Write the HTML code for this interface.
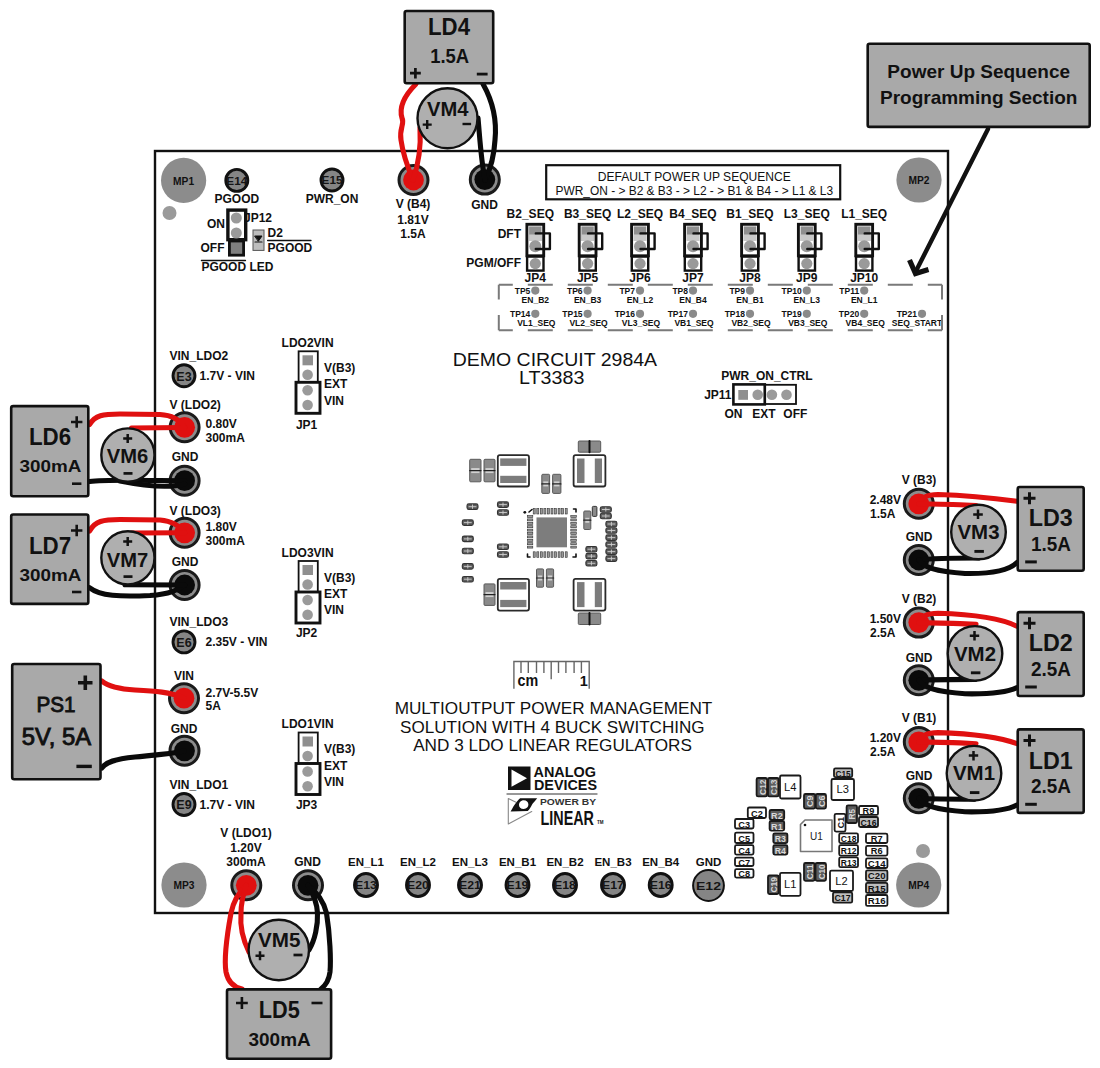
<!DOCTYPE html><html><head><meta charset="utf-8"><style>html,body{margin:0;padding:0;background:#fff;}svg{display:block;}</style></head><body><svg width="1100" height="1068" viewBox="0 0 1100 1068" font-family='"Liberation Sans", sans-serif'>
<rect width="1100" height="1068" fill="#ffffff"/>
<rect x="155.0" y="151.0" width="793.0" height="762.0" rx="0" fill="#fff" stroke="#111" stroke-width="2.4"/>
<circle cx="183.6" cy="180.4" r="22.6" fill="#8c8c8c" stroke="none" stroke-width="0"/>
<text x="183.6" y="184.5" font-size="10" text-anchor="middle" font-weight="bold" fill="#111" textLength="21" lengthAdjust="spacingAndGlyphs">MP1</text>
<circle cx="919.0" cy="180.0" r="22.6" fill="#8c8c8c" stroke="none" stroke-width="0"/>
<text x="919.0" y="184.1" font-size="10" text-anchor="middle" font-weight="bold" fill="#111" textLength="21" lengthAdjust="spacingAndGlyphs">MP2</text>
<circle cx="184.0" cy="885.0" r="22.6" fill="#8c8c8c" stroke="none" stroke-width="0"/>
<text x="184.0" y="889.1" font-size="10" text-anchor="middle" font-weight="bold" fill="#111" textLength="21" lengthAdjust="spacingAndGlyphs">MP3</text>
<circle cx="918.7" cy="885.0" r="22.6" fill="#8c8c8c" stroke="none" stroke-width="0"/>
<text x="918.7" y="889.1" font-size="10" text-anchor="middle" font-weight="bold" fill="#111" textLength="21" lengthAdjust="spacingAndGlyphs">MP4</text>
<circle cx="169.5" cy="213.0" r="7.0" fill="#9a9a9a" stroke="none" stroke-width="0"/>
<circle cx="923.0" cy="851.0" r="7.0" fill="#9a9a9a" stroke="none" stroke-width="0"/>
<circle cx="366.0" cy="885.0" r="11.5" fill="#858585" stroke="#111" stroke-width="2.9"/>
<text x="366.0" y="889.2" font-size="11" text-anchor="middle" font-weight="bold" fill="#151515" textLength="21.9" lengthAdjust="spacingAndGlyphs">E13</text>
<circle cx="418.0" cy="885.0" r="11.5" fill="#858585" stroke="#111" stroke-width="2.9"/>
<text x="418.0" y="889.2" font-size="11" text-anchor="middle" font-weight="bold" fill="#151515" textLength="21.9" lengthAdjust="spacingAndGlyphs">E20</text>
<circle cx="470.0" cy="885.0" r="11.5" fill="#858585" stroke="#111" stroke-width="2.9"/>
<text x="470.0" y="889.2" font-size="11" text-anchor="middle" font-weight="bold" fill="#151515" textLength="21.9" lengthAdjust="spacingAndGlyphs">E21</text>
<circle cx="517.5" cy="885.0" r="11.5" fill="#858585" stroke="#111" stroke-width="2.9"/>
<text x="517.5" y="889.2" font-size="11" text-anchor="middle" font-weight="bold" fill="#151515" textLength="21.9" lengthAdjust="spacingAndGlyphs">E19</text>
<circle cx="565.0" cy="885.0" r="11.5" fill="#858585" stroke="#111" stroke-width="2.9"/>
<text x="565.0" y="889.2" font-size="11" text-anchor="middle" font-weight="bold" fill="#151515" textLength="21.9" lengthAdjust="spacingAndGlyphs">E18</text>
<circle cx="613.0" cy="885.0" r="11.5" fill="#858585" stroke="#111" stroke-width="2.9"/>
<text x="613.0" y="889.2" font-size="11" text-anchor="middle" font-weight="bold" fill="#151515" textLength="21.9" lengthAdjust="spacingAndGlyphs">E17</text>
<circle cx="660.7" cy="885.0" r="11.5" fill="#858585" stroke="#111" stroke-width="2.9"/>
<text x="660.7" y="889.2" font-size="11" text-anchor="middle" font-weight="bold" fill="#151515" textLength="21.9" lengthAdjust="spacingAndGlyphs">E16</text>
<circle cx="708.5" cy="885.5" r="15.4" fill="#858585" stroke="#111" stroke-width="2"/>
<text x="708.5" y="889.7" font-size="11" text-anchor="middle" font-weight="bold" fill="#151515" textLength="25" lengthAdjust="spacingAndGlyphs">E12</text>
<circle cx="236.8" cy="180.4" r="11.0" fill="#858585" stroke="#111" stroke-width="2.9"/>
<text x="236.8" y="184.6" font-size="11" text-anchor="middle" font-weight="bold" fill="#151515" textLength="20.9" lengthAdjust="spacingAndGlyphs">E14</text>
<circle cx="332.0" cy="180.0" r="11.0" fill="#858585" stroke="#111" stroke-width="2.9"/>
<text x="332.0" y="184.2" font-size="11" text-anchor="middle" font-weight="bold" fill="#151515" textLength="20.9" lengthAdjust="spacingAndGlyphs">E15</text>
<circle cx="184.0" cy="375.8" r="11.0" fill="#858585" stroke="#111" stroke-width="2.9"/>
<text x="184.0" y="380.6" font-size="12.5" text-anchor="middle" font-weight="bold" fill="#151515">E3</text>
<circle cx="184.0" cy="641.9" r="11.0" fill="#858585" stroke="#111" stroke-width="2.9"/>
<text x="184.0" y="646.7" font-size="12.5" text-anchor="middle" font-weight="bold" fill="#151515">E6</text>
<circle cx="184.0" cy="804.5" r="11.0" fill="#858585" stroke="#111" stroke-width="2.9"/>
<text x="184.0" y="809.3" font-size="12.5" text-anchor="middle" font-weight="bold" fill="#151515">E9</text>
<text x="236.8" y="203.1" font-size="12" text-anchor="middle" font-weight="bold" fill="#111">PGOOD</text>
<text x="332.0" y="203.1" font-size="12" text-anchor="middle" font-weight="bold" fill="#111">PWR_ON</text>
<text x="413.0" y="208.3" font-size="12" text-anchor="middle" font-weight="bold" fill="#111">V (B4)</text>
<text x="413.0" y="223.5" font-size="12" text-anchor="middle" font-weight="bold" fill="#111">1.81V</text>
<text x="413.0" y="237.9" font-size="12" text-anchor="middle" font-weight="bold" fill="#111">1.5A</text>
<text x="484.5" y="208.6" font-size="12" text-anchor="middle" font-weight="bold" fill="#111">GND</text>
<text x="244.0" y="221.8" font-size="12" text-anchor="start" font-weight="bold" fill="#111">JP12</text>
<rect x="229.4" y="241.0" width="14.2" height="14.2" rx="0" fill="#7f7f7f" stroke="#111" stroke-width="2.8"/>
<rect x="227.9" y="210.1" width="17.8" height="29.6" rx="0" fill="#fff" stroke="#111" stroke-width="3.4"/>
<circle cx="236.3" cy="218.0" r="5.5" fill="#9a9a9a" stroke="none" stroke-width="0"/>
<circle cx="236.3" cy="233.0" r="5.5" fill="#9a9a9a" stroke="none" stroke-width="0"/>
<text x="225.0" y="227.8" font-size="12" text-anchor="end" font-weight="bold" fill="#111">ON</text>
<text x="224.5" y="251.6" font-size="12" text-anchor="end" font-weight="bold" fill="#111">OFF</text>
<rect x="253.0" y="230.0" width="11.0" height="20.4" rx="0" fill="#bdbdbd" stroke="#555" stroke-width="1"/>
<path d="M255,236 L262,236 L258.5,241 Z" fill="#111" stroke="#111" stroke-width="1" stroke-linecap="round" stroke-linejoin="round"/>
<path d="M255,242 L262,242" fill="none" stroke="#111" stroke-width="1.2" stroke-linecap="round" stroke-linejoin="round"/>
<text x="267.6" y="237.3" font-size="12" text-anchor="start" font-weight="bold" fill="#111">D2</text>
<text x="267.6" y="251.9" font-size="12" text-anchor="start" font-weight="bold" fill="#111">PGOOD</text>
<path d="M267.6,240.5 L311,240.5" fill="none" stroke="#111" stroke-width="1.3" stroke-linecap="round" stroke-linejoin="round"/>
<text x="201.4" y="271.3" font-size="12" text-anchor="start" font-weight="bold" fill="#111">PGOOD LED</text>
<path d="M201.4,260.5 L245.5,260.5" fill="none" stroke="#111" stroke-width="1.3" stroke-linecap="round" stroke-linejoin="round"/>
<rect x="546.2" y="165.2" width="294.0" height="34.1" rx="0" fill="none" stroke="#111" stroke-width="2.2"/>
<text x="694.3" y="180.9" font-size="13" text-anchor="middle" font-weight="normal" fill="#111" textLength="193" lengthAdjust="spacingAndGlyphs">DEFAULT POWER UP SEQUENCE</text>
<text x="694.3" y="195.3" font-size="13" text-anchor="middle" font-weight="normal" fill="#111" textLength="277.6" lengthAdjust="spacingAndGlyphs">PWR_ON - &gt; B2 &amp; B3 - &gt; L2 - &gt; B1 &amp; B4 - &gt; L1 &amp; L3</text>
<text x="530.3" y="217.9" font-size="12" text-anchor="middle" font-weight="bold" fill="#111">B2_SEQ</text>
<rect x="527.1" y="256.5" width="16.4" height="14.1" rx="0" fill="#fff" stroke="#111" stroke-width="2.4"/>
<circle cx="535.3" cy="263.6" r="5.6" fill="#9a9a9a" stroke="none" stroke-width="0"/>
<rect x="526.9" y="224.3" width="16.8" height="31.5" rx="0" fill="#fff" stroke="#111" stroke-width="2.9"/>
<rect x="529.1" y="226.4" width="12.4" height="14.6" rx="0" fill="#8f8f8f" stroke="none" stroke-width="0"/>
<rect x="529.1" y="234.5" width="12.4" height="6.5" fill="#c9c9c9"/>
<circle cx="535.3" cy="246.2" r="6.0" fill="#9a9a9a" stroke="none" stroke-width="0"/>
<path d="M535.8,233.4 L549.9,233.4 L549.9,249 L535.8,249" fill="none" stroke="#111" stroke-width="2.4" stroke-linecap="round" stroke-linejoin="round"/>
<text x="535.3" y="281.8" font-size="12" text-anchor="middle" font-weight="bold" fill="#111">JP4</text>
<circle cx="535.3" cy="290.6" r="4.1" fill="#8a8a8a" stroke="none" stroke-width="0"/>
<circle cx="535.3" cy="313.8" r="4.1" fill="#8a8a8a" stroke="none" stroke-width="0"/>
<text x="530.3" y="293.6" font-size="8.5" text-anchor="end" font-weight="bold" fill="#111">TP5</text>
<text x="535.3" y="302.6" font-size="8.5" text-anchor="middle" font-weight="bold" fill="#111">EN_B2</text>
<text x="530.3" y="316.8" font-size="8.5" text-anchor="end" font-weight="bold" fill="#111">TP14</text>
<text x="536.3" y="325.7" font-size="8.5" text-anchor="middle" font-weight="bold" fill="#111">VL1_SEQ</text>
<text x="587.6" y="217.9" font-size="12" text-anchor="middle" font-weight="bold" fill="#111">B3_SEQ</text>
<rect x="579.4" y="256.5" width="16.4" height="14.1" rx="0" fill="#fff" stroke="#111" stroke-width="2.4"/>
<circle cx="587.6" cy="263.6" r="5.6" fill="#9a9a9a" stroke="none" stroke-width="0"/>
<rect x="579.2" y="224.3" width="16.8" height="31.5" rx="0" fill="#fff" stroke="#111" stroke-width="2.9"/>
<rect x="581.4" y="226.4" width="12.4" height="14.6" rx="0" fill="#8f8f8f" stroke="none" stroke-width="0"/>
<rect x="581.4" y="234.5" width="12.4" height="6.5" fill="#c9c9c9"/>
<circle cx="587.6" cy="246.2" r="6.0" fill="#9a9a9a" stroke="none" stroke-width="0"/>
<path d="M588.1,233.4 L602.2,233.4 L602.2,249 L588.1,249" fill="none" stroke="#111" stroke-width="2.4" stroke-linecap="round" stroke-linejoin="round"/>
<text x="587.6" y="281.8" font-size="12" text-anchor="middle" font-weight="bold" fill="#111">JP5</text>
<circle cx="587.6" cy="290.6" r="4.1" fill="#8a8a8a" stroke="none" stroke-width="0"/>
<circle cx="587.6" cy="313.8" r="4.1" fill="#8a8a8a" stroke="none" stroke-width="0"/>
<text x="582.6" y="293.6" font-size="8.5" text-anchor="end" font-weight="bold" fill="#111">TP6</text>
<text x="587.6" y="302.6" font-size="8.5" text-anchor="middle" font-weight="bold" fill="#111">EN_B3</text>
<text x="582.6" y="316.8" font-size="8.5" text-anchor="end" font-weight="bold" fill="#111">TP15</text>
<text x="588.6" y="325.7" font-size="8.5" text-anchor="middle" font-weight="bold" fill="#111">VL2_SEQ</text>
<text x="640.0" y="217.9" font-size="12" text-anchor="middle" font-weight="bold" fill="#111">L2_SEQ</text>
<rect x="631.8" y="256.5" width="16.4" height="14.1" rx="0" fill="#fff" stroke="#111" stroke-width="2.4"/>
<circle cx="640.0" cy="263.6" r="5.6" fill="#9a9a9a" stroke="none" stroke-width="0"/>
<rect x="631.6" y="224.3" width="16.8" height="31.5" rx="0" fill="#fff" stroke="#111" stroke-width="2.9"/>
<rect x="633.8" y="226.4" width="12.4" height="14.6" rx="0" fill="#8f8f8f" stroke="none" stroke-width="0"/>
<rect x="633.8" y="234.5" width="12.4" height="6.5" fill="#c9c9c9"/>
<circle cx="640.0" cy="246.2" r="6.0" fill="#9a9a9a" stroke="none" stroke-width="0"/>
<path d="M640.5,233.4 L654.6,233.4 L654.6,249 L640.5,249" fill="none" stroke="#111" stroke-width="2.4" stroke-linecap="round" stroke-linejoin="round"/>
<text x="640.0" y="281.8" font-size="12" text-anchor="middle" font-weight="bold" fill="#111">JP6</text>
<circle cx="640.0" cy="290.6" r="4.1" fill="#8a8a8a" stroke="none" stroke-width="0"/>
<circle cx="640.0" cy="313.8" r="4.1" fill="#8a8a8a" stroke="none" stroke-width="0"/>
<text x="635.0" y="293.6" font-size="8.5" text-anchor="end" font-weight="bold" fill="#111">TP7</text>
<text x="640.0" y="302.6" font-size="8.5" text-anchor="middle" font-weight="bold" fill="#111">EN_L2</text>
<text x="635.0" y="316.8" font-size="8.5" text-anchor="end" font-weight="bold" fill="#111">TP16</text>
<text x="641.0" y="325.7" font-size="8.5" text-anchor="middle" font-weight="bold" fill="#111">VL3_SEQ</text>
<text x="693.0" y="217.9" font-size="12" text-anchor="middle" font-weight="bold" fill="#111">B4_SEQ</text>
<rect x="684.8" y="256.5" width="16.4" height="14.1" rx="0" fill="#fff" stroke="#111" stroke-width="2.4"/>
<circle cx="693.0" cy="263.6" r="5.6" fill="#9a9a9a" stroke="none" stroke-width="0"/>
<rect x="684.6" y="224.3" width="16.8" height="31.5" rx="0" fill="#fff" stroke="#111" stroke-width="2.9"/>
<rect x="686.8" y="226.4" width="12.4" height="14.6" rx="0" fill="#8f8f8f" stroke="none" stroke-width="0"/>
<rect x="686.8" y="234.5" width="12.4" height="6.5" fill="#c9c9c9"/>
<circle cx="693.0" cy="246.2" r="6.0" fill="#9a9a9a" stroke="none" stroke-width="0"/>
<path d="M693.5,233.4 L707.6,233.4 L707.6,249 L693.5,249" fill="none" stroke="#111" stroke-width="2.4" stroke-linecap="round" stroke-linejoin="round"/>
<text x="693.0" y="281.8" font-size="12" text-anchor="middle" font-weight="bold" fill="#111">JP7</text>
<circle cx="693.0" cy="290.6" r="4.1" fill="#8a8a8a" stroke="none" stroke-width="0"/>
<circle cx="693.0" cy="313.8" r="4.1" fill="#8a8a8a" stroke="none" stroke-width="0"/>
<text x="688.0" y="293.6" font-size="8.5" text-anchor="end" font-weight="bold" fill="#111">TP8</text>
<text x="693.0" y="302.6" font-size="8.5" text-anchor="middle" font-weight="bold" fill="#111">EN_B4</text>
<text x="688.0" y="316.8" font-size="8.5" text-anchor="end" font-weight="bold" fill="#111">TP17</text>
<text x="694.0" y="325.7" font-size="8.5" text-anchor="middle" font-weight="bold" fill="#111">VB1_SEQ</text>
<text x="750.0" y="217.9" font-size="12" text-anchor="middle" font-weight="bold" fill="#111">B1_SEQ</text>
<rect x="741.8" y="256.5" width="16.4" height="14.1" rx="0" fill="#fff" stroke="#111" stroke-width="2.4"/>
<circle cx="750.0" cy="263.6" r="5.6" fill="#9a9a9a" stroke="none" stroke-width="0"/>
<rect x="741.6" y="224.3" width="16.8" height="31.5" rx="0" fill="#fff" stroke="#111" stroke-width="2.9"/>
<rect x="743.8" y="226.4" width="12.4" height="14.6" rx="0" fill="#8f8f8f" stroke="none" stroke-width="0"/>
<rect x="743.8" y="234.5" width="12.4" height="6.5" fill="#c9c9c9"/>
<circle cx="750.0" cy="246.2" r="6.0" fill="#9a9a9a" stroke="none" stroke-width="0"/>
<path d="M750.5,233.4 L764.6,233.4 L764.6,249 L750.5,249" fill="none" stroke="#111" stroke-width="2.4" stroke-linecap="round" stroke-linejoin="round"/>
<text x="750.0" y="281.8" font-size="12" text-anchor="middle" font-weight="bold" fill="#111">JP8</text>
<circle cx="750.0" cy="290.6" r="4.1" fill="#8a8a8a" stroke="none" stroke-width="0"/>
<circle cx="750.0" cy="313.8" r="4.1" fill="#8a8a8a" stroke="none" stroke-width="0"/>
<text x="745.0" y="293.6" font-size="8.5" text-anchor="end" font-weight="bold" fill="#111">TP9</text>
<text x="750.0" y="302.6" font-size="8.5" text-anchor="middle" font-weight="bold" fill="#111">EN_B1</text>
<text x="745.0" y="316.8" font-size="8.5" text-anchor="end" font-weight="bold" fill="#111">TP18</text>
<text x="751.0" y="325.7" font-size="8.5" text-anchor="middle" font-weight="bold" fill="#111">VB2_SEQ</text>
<text x="806.8" y="217.9" font-size="12" text-anchor="middle" font-weight="bold" fill="#111">L3_SEQ</text>
<rect x="798.6" y="256.5" width="16.4" height="14.1" rx="0" fill="#fff" stroke="#111" stroke-width="2.4"/>
<circle cx="806.8" cy="263.6" r="5.6" fill="#9a9a9a" stroke="none" stroke-width="0"/>
<rect x="798.4" y="224.3" width="16.8" height="31.5" rx="0" fill="#fff" stroke="#111" stroke-width="2.9"/>
<rect x="800.6" y="226.4" width="12.4" height="14.6" rx="0" fill="#8f8f8f" stroke="none" stroke-width="0"/>
<rect x="800.6" y="234.5" width="12.4" height="6.5" fill="#c9c9c9"/>
<circle cx="806.8" cy="246.2" r="6.0" fill="#9a9a9a" stroke="none" stroke-width="0"/>
<path d="M807.3,233.4 L821.4,233.4 L821.4,249 L807.3,249" fill="none" stroke="#111" stroke-width="2.4" stroke-linecap="round" stroke-linejoin="round"/>
<text x="806.8" y="281.8" font-size="12" text-anchor="middle" font-weight="bold" fill="#111">JP9</text>
<circle cx="806.8" cy="290.6" r="4.1" fill="#8a8a8a" stroke="none" stroke-width="0"/>
<circle cx="806.8" cy="313.8" r="4.1" fill="#8a8a8a" stroke="none" stroke-width="0"/>
<text x="801.8" y="293.6" font-size="8.5" text-anchor="end" font-weight="bold" fill="#111">TP10</text>
<text x="806.8" y="302.6" font-size="8.5" text-anchor="middle" font-weight="bold" fill="#111">EN_L3</text>
<text x="801.8" y="316.8" font-size="8.5" text-anchor="end" font-weight="bold" fill="#111">TP19</text>
<text x="807.8" y="325.7" font-size="8.5" text-anchor="middle" font-weight="bold" fill="#111">VB3_SEQ</text>
<text x="864.2" y="217.9" font-size="12" text-anchor="middle" font-weight="bold" fill="#111">L1_SEQ</text>
<rect x="856.0" y="256.5" width="16.4" height="14.1" rx="0" fill="#fff" stroke="#111" stroke-width="2.4"/>
<circle cx="864.2" cy="263.6" r="5.6" fill="#9a9a9a" stroke="none" stroke-width="0"/>
<rect x="855.8" y="224.3" width="16.8" height="31.5" rx="0" fill="#fff" stroke="#111" stroke-width="2.9"/>
<rect x="858.0" y="226.4" width="12.4" height="14.6" rx="0" fill="#8f8f8f" stroke="none" stroke-width="0"/>
<rect x="858.0" y="234.5" width="12.4" height="6.5" fill="#c9c9c9"/>
<circle cx="864.2" cy="246.2" r="6.0" fill="#9a9a9a" stroke="none" stroke-width="0"/>
<path d="M864.7,233.4 L878.8000000000001,233.4 L878.8000000000001,249 L864.7,249" fill="none" stroke="#111" stroke-width="2.4" stroke-linecap="round" stroke-linejoin="round"/>
<text x="864.2" y="281.8" font-size="12" text-anchor="middle" font-weight="bold" fill="#111">JP10</text>
<circle cx="864.2" cy="290.6" r="4.1" fill="#8a8a8a" stroke="none" stroke-width="0"/>
<circle cx="864.2" cy="313.8" r="4.1" fill="#8a8a8a" stroke="none" stroke-width="0"/>
<text x="859.2" y="293.6" font-size="8.5" text-anchor="end" font-weight="bold" fill="#111">TP11</text>
<text x="864.2" y="302.6" font-size="8.5" text-anchor="middle" font-weight="bold" fill="#111">EN_L1</text>
<text x="859.2" y="316.8" font-size="8.5" text-anchor="end" font-weight="bold" fill="#111">TP20</text>
<text x="865.2" y="325.7" font-size="8.5" text-anchor="middle" font-weight="bold" fill="#111">VB4_SEQ</text>
<circle cx="922.0" cy="313.8" r="4.1" fill="#8a8a8a" stroke="none" stroke-width="0"/>
<text x="917.0" y="316.8" font-size="8.5" text-anchor="end" font-weight="bold" fill="#111">TP21</text>
<text x="917.0" y="325.7" font-size="8.5" text-anchor="middle" font-weight="bold" fill="#111">SEQ_START</text>
<text x="521.0" y="237.5" font-size="12" text-anchor="end" font-weight="bold" fill="#111">DFT</text>
<text x="521.0" y="266.5" font-size="12" text-anchor="end" font-weight="bold" fill="#111">PGM/OFF</text>
<path d="M498.8,284.8 L512.8,284.8 M527.8,284.8 L552.8,284.8 M567.8,284.8 L592.8,284.8 M607.8,284.8 L632.8,284.8 M647.8,284.8 L672.8,284.8 M687.8,284.8 L712.8,284.8 M727.8,284.8 L752.8,284.8 M767.8,284.8 L792.8,284.8 M807.8,284.8 L832.8,284.8 M847.8,284.8 L872.8,284.8 M887.8,284.8 L912.8,284.8 M927.8,284.8 L942.0,284.8 M498.8,330.2 L512.8,330.2 M527.8,330.2 L552.8,330.2 M567.8,330.2 L592.8,330.2 M607.8,330.2 L632.8,330.2 M647.8,330.2 L672.8,330.2 M687.8,330.2 L712.8,330.2 M727.8,330.2 L752.8,330.2 M767.8,330.2 L792.8,330.2 M807.8,330.2 L832.8,330.2 M847.8,330.2 L872.8,330.2 M887.8,330.2 L912.8,330.2 M927.8,330.2 L942.0,330.2 M498.8,284.8 L498.8,299.6 M498.8,315 L498.8,330.2 M942,284.8 L942,299.6 M942,315 L942,330.2" fill="none" stroke="#7a7a7a" stroke-width="2"/>
<text x="554.9" y="365.7" font-size="19" text-anchor="middle" font-weight="normal" fill="#111" textLength="204.3" lengthAdjust="spacingAndGlyphs">DEMO CIRCUIT 2984A</text>
<text x="551.7" y="383.6" font-size="18.5" text-anchor="middle" font-weight="normal" fill="#111" textLength="65.4" lengthAdjust="spacingAndGlyphs">LT3383</text>
<text x="766.9" y="379.5" font-size="12" text-anchor="middle" font-weight="bold" fill="#111">PWR_ON_CTRL</text>
<rect x="733.4" y="384.4" width="31.4" height="20.0" rx="0" fill="#fff" stroke="#111" stroke-width="2.6"/>
<rect x="764.8" y="384.8" width="31.2" height="19.2" rx="0" fill="none" stroke="#111" stroke-width="1.8"/>
<rect x="738.3" y="390.0" width="9.7" height="9.8" rx="0" fill="#8f8f8f" stroke="none" stroke-width="0"/>
<circle cx="757.7" cy="394.8" r="5.3" fill="#9a9a9a" stroke="none" stroke-width="0"/>
<circle cx="771.9" cy="394.8" r="5.3" fill="#9a9a9a" stroke="none" stroke-width="0"/>
<circle cx="786.5" cy="394.8" r="5.3" fill="#9a9a9a" stroke="none" stroke-width="0"/>
<text x="731.5" y="399.1" font-size="12" text-anchor="end" font-weight="bold" fill="#111">JP11</text>
<text x="733.4" y="417.9" font-size="12" text-anchor="middle" font-weight="bold" fill="#111">ON</text>
<text x="764.0" y="417.9" font-size="12" text-anchor="middle" font-weight="bold" fill="#111">EXT</text>
<text x="795.3" y="417.9" font-size="12" text-anchor="middle" font-weight="bold" fill="#111">OFF</text>
<text x="169.5" y="360.3" font-size="12" text-anchor="start" font-weight="bold" fill="#111">VIN_LDO2</text>
<text x="199.6" y="380.3" font-size="12" text-anchor="start" font-weight="bold" fill="#111">1.7V - VIN</text>
<text x="169.5" y="408.9" font-size="12" text-anchor="start" font-weight="bold" fill="#111">V (LDO2)</text>
<text x="205.5" y="428.3" font-size="12" text-anchor="start" font-weight="bold" fill="#111">0.80V</text>
<text x="205.5" y="441.5" font-size="12" text-anchor="start" font-weight="bold" fill="#111">300mA</text>
<text x="185.0" y="460.8" font-size="12" text-anchor="middle" font-weight="bold" fill="#111">GND</text>
<text x="169.5" y="514.5" font-size="12" text-anchor="start" font-weight="bold" fill="#111">V (LDO3)</text>
<text x="205.5" y="531.3" font-size="12" text-anchor="start" font-weight="bold" fill="#111">1.80V</text>
<text x="205.5" y="544.7" font-size="12" text-anchor="start" font-weight="bold" fill="#111">300mA</text>
<text x="185.0" y="565.6" font-size="12" text-anchor="middle" font-weight="bold" fill="#111">GND</text>
<text x="169.5" y="626.3" font-size="12" text-anchor="start" font-weight="bold" fill="#111">VIN_LDO3</text>
<text x="205.5" y="646.3" font-size="12" text-anchor="start" font-weight="bold" fill="#111">2.35V - VIN</text>
<text x="184.0" y="680.3" font-size="12" text-anchor="middle" font-weight="bold" fill="#111">VIN</text>
<text x="205.5" y="697.3" font-size="12" text-anchor="start" font-weight="bold" fill="#111">2.7V-5.5V</text>
<text x="205.5" y="710.3" font-size="12" text-anchor="start" font-weight="bold" fill="#111">5A</text>
<text x="184.0" y="732.6" font-size="12" text-anchor="middle" font-weight="bold" fill="#111">GND</text>
<text x="169.5" y="789.3" font-size="12" text-anchor="start" font-weight="bold" fill="#111">VIN_LDO1</text>
<text x="199.6" y="809.0" font-size="12" text-anchor="start" font-weight="bold" fill="#111">1.7V - VIN</text>
<text x="246.0" y="837.3" font-size="12" text-anchor="middle" font-weight="bold" fill="#111">V (LDO1)</text>
<text x="246.0" y="851.5" font-size="12" text-anchor="middle" font-weight="bold" fill="#111">1.20V</text>
<text x="246.0" y="866.1" font-size="12" text-anchor="middle" font-weight="bold" fill="#111">300mA</text>
<text x="307.6" y="866.1" font-size="12" text-anchor="middle" font-weight="bold" fill="#111">GND</text>
<text x="307.6" y="346.7" font-size="12" text-anchor="middle" font-weight="bold" fill="#111">LDO2VIN</text>
<rect x="298.6" y="351.3" width="19.2" height="31.0" rx="0" fill="#fff" stroke="#111" stroke-width="1.8"/>
<rect x="296.0" y="382.3" width="24.0" height="31.0" rx="0" fill="#fff" stroke="#111" stroke-width="2.9"/>
<rect x="302.5" y="355.3" width="10.5" height="10.0" rx="0" fill="#8f8f8f" stroke="none" stroke-width="0"/>
<circle cx="307.6" cy="374.8" r="5.3" fill="#9a9a9a" stroke="none" stroke-width="0"/>
<circle cx="307.6" cy="390.3" r="5.3" fill="#9a9a9a" stroke="none" stroke-width="0"/>
<circle cx="307.6" cy="405.0" r="5.3" fill="#9a9a9a" stroke="none" stroke-width="0"/>
<text x="324.0" y="371.9" font-size="12" text-anchor="start" font-weight="bold" fill="#111">V(B3)</text>
<text x="324.0" y="388.3" font-size="12" text-anchor="start" font-weight="bold" fill="#111">EXT</text>
<text x="324.0" y="404.6" font-size="12" text-anchor="start" font-weight="bold" fill="#111">VIN</text>
<text x="306.6" y="429.3" font-size="12" text-anchor="middle" font-weight="bold" fill="#111">JP1</text>
<text x="307.6" y="556.8" font-size="12" text-anchor="middle" font-weight="bold" fill="#111">LDO3VIN</text>
<rect x="298.6" y="561.0" width="19.2" height="31.0" rx="0" fill="#fff" stroke="#111" stroke-width="1.8"/>
<rect x="296.0" y="592.0" width="24.0" height="31.0" rx="0" fill="#fff" stroke="#111" stroke-width="2.9"/>
<rect x="302.5" y="565.0" width="10.5" height="10.0" rx="0" fill="#8f8f8f" stroke="none" stroke-width="0"/>
<circle cx="307.6" cy="584.5" r="5.3" fill="#9a9a9a" stroke="none" stroke-width="0"/>
<circle cx="307.6" cy="600.0" r="5.3" fill="#9a9a9a" stroke="none" stroke-width="0"/>
<circle cx="307.6" cy="614.7" r="5.3" fill="#9a9a9a" stroke="none" stroke-width="0"/>
<text x="324.0" y="581.6" font-size="12" text-anchor="start" font-weight="bold" fill="#111">V(B3)</text>
<text x="324.0" y="598.0" font-size="12" text-anchor="start" font-weight="bold" fill="#111">EXT</text>
<text x="324.0" y="614.3" font-size="12" text-anchor="start" font-weight="bold" fill="#111">VIN</text>
<text x="306.6" y="637.3" font-size="12" text-anchor="middle" font-weight="bold" fill="#111">JP2</text>
<text x="307.6" y="727.7" font-size="12" text-anchor="middle" font-weight="bold" fill="#111">LDO1VIN</text>
<rect x="298.6" y="732.5" width="19.2" height="31.0" rx="0" fill="#fff" stroke="#111" stroke-width="1.8"/>
<rect x="296.0" y="763.5" width="24.0" height="31.0" rx="0" fill="#fff" stroke="#111" stroke-width="2.9"/>
<rect x="302.5" y="736.5" width="10.5" height="10.0" rx="0" fill="#8f8f8f" stroke="none" stroke-width="0"/>
<circle cx="307.6" cy="756.0" r="5.3" fill="#9a9a9a" stroke="none" stroke-width="0"/>
<circle cx="307.6" cy="771.5" r="5.3" fill="#9a9a9a" stroke="none" stroke-width="0"/>
<circle cx="307.6" cy="786.2" r="5.3" fill="#9a9a9a" stroke="none" stroke-width="0"/>
<text x="324.0" y="753.1" font-size="12" text-anchor="start" font-weight="bold" fill="#111">V(B3)</text>
<text x="324.0" y="769.5" font-size="12" text-anchor="start" font-weight="bold" fill="#111">EXT</text>
<text x="324.0" y="785.8" font-size="12" text-anchor="start" font-weight="bold" fill="#111">VIN</text>
<text x="306.6" y="809.0" font-size="12" text-anchor="middle" font-weight="bold" fill="#111">JP3</text>
<text x="919.0" y="484.1" font-size="12" text-anchor="middle" font-weight="bold" fill="#111">V (B3)</text>
<text x="901.0" y="504.1" font-size="12" text-anchor="end" font-weight="bold" fill="#111">2.48V</text>
<text x="870.0" y="518.1" font-size="12" text-anchor="start" font-weight="bold" fill="#111">1.5A</text>
<text x="919.0" y="541.3" font-size="12" text-anchor="middle" font-weight="bold" fill="#111">GND</text>
<text x="919.0" y="602.9" font-size="12" text-anchor="middle" font-weight="bold" fill="#111">V (B2)</text>
<text x="901.0" y="622.9" font-size="12" text-anchor="end" font-weight="bold" fill="#111">1.50V</text>
<text x="870.0" y="636.9" font-size="12" text-anchor="start" font-weight="bold" fill="#111">2.5A</text>
<text x="919.0" y="661.6" font-size="12" text-anchor="middle" font-weight="bold" fill="#111">GND</text>
<text x="919.0" y="722.2" font-size="12" text-anchor="middle" font-weight="bold" fill="#111">V (B1)</text>
<text x="901.0" y="742.2" font-size="12" text-anchor="end" font-weight="bold" fill="#111">1.20V</text>
<text x="870.0" y="756.2" font-size="12" text-anchor="start" font-weight="bold" fill="#111">2.5A</text>
<text x="919.0" y="779.6" font-size="12" text-anchor="middle" font-weight="bold" fill="#111">GND</text>
<path d="M513.9,688.7 L513.9,661.5 L589.2,661.5 L589.2,688.7" fill="none" stroke="#666" stroke-width="1.4"/>
<path d="M521.0,661.5 L521.0,673.1 M528.3,661.5 L528.3,673.1 M536.5,661.5 L536.5,673.1 M543.9,661.5 L543.9,673.1 M551.2,661.5 L551.2,679.2 M558.5,661.5 L558.5,673.1 M565.9,661.5 L565.9,673.1 M574.1,661.5 L574.1,673.1 M581.4,661.5 L581.4,673.1 " fill="none" stroke="#666" stroke-width="1.4"/>
<text x="517.5" y="686.1" font-size="16" text-anchor="start" font-weight="bold" fill="#111" textLength="20.7" lengthAdjust="spacingAndGlyphs">cm</text>
<text x="579.7" y="686.1" font-size="14.5" text-anchor="start" font-weight="bold" fill="#111">1</text>
<text x="553.5" y="714.0" font-size="17.3" text-anchor="middle" font-weight="normal" fill="#111" textLength="317.7" lengthAdjust="spacingAndGlyphs">MULTIOUTPUT POWER MANAGEMENT</text>
<text x="552.3" y="732.5" font-size="17.3" text-anchor="middle" font-weight="normal" fill="#111" textLength="304.6" lengthAdjust="spacingAndGlyphs">SOLUTION WITH 4 BUCK SWITCHING</text>
<text x="552.5" y="751.0" font-size="17.3" text-anchor="middle" font-weight="normal" fill="#111" textLength="278.7" lengthAdjust="spacingAndGlyphs">AND 3 LDO LINEAR REGULATORS</text>
<rect x="497.8" y="455.2" width="31.2" height="31.3" rx="2" fill="#fff" stroke="#2a2a2a" stroke-width="1.8"/>
<rect x="500.2" y="458.4" width="26.2" height="7.5" rx="0" fill="#7c7c7c" stroke="none" stroke-width="0"/>
<rect x="500.2" y="475.8" width="26.2" height="7.2" rx="0" fill="#7c7c7c" stroke="none" stroke-width="0"/>
<rect x="573.6" y="455.2" width="31.8" height="31.3" rx="2" fill="#fff" stroke="#2a2a2a" stroke-width="1.8"/>
<rect x="577.0" y="458.5" width="7.5" height="24.5" rx="0" fill="#7c7c7c" stroke="none" stroke-width="0"/>
<rect x="594.8" y="458.5" width="7.2" height="24.5" rx="0" fill="#7c7c7c" stroke="none" stroke-width="0"/>
<rect x="497.8" y="578.8" width="31.2" height="31.8" rx="2" fill="#fff" stroke="#2a2a2a" stroke-width="1.8"/>
<rect x="500.2" y="582.0" width="26.2" height="7.5" rx="0" fill="#7c7c7c" stroke="none" stroke-width="0"/>
<rect x="500.2" y="599.9" width="26.2" height="7.2" rx="0" fill="#7c7c7c" stroke="none" stroke-width="0"/>
<rect x="573.6" y="578.8" width="31.8" height="31.8" rx="2" fill="#fff" stroke="#2a2a2a" stroke-width="1.8"/>
<rect x="577.0" y="582.1" width="7.5" height="25.0" rx="0" fill="#7c7c7c" stroke="none" stroke-width="0"/>
<rect x="594.8" y="582.1" width="7.2" height="25.0" rx="0" fill="#7c7c7c" stroke="none" stroke-width="0"/>
<rect x="469.7" y="459.3" width="11.3" height="22.5" rx="1" fill="#8a8a8a" stroke="#5a5a5a" stroke-width="1"/>
<rect x="471.2" y="468.1" width="8.3" height="5" fill="#d0d0d0"/>
<path d="M469.7,470.6 L481,470.6" fill="none" stroke="#222" stroke-width="1.2" stroke-linecap="round" stroke-linejoin="round"/>
<rect x="484.0" y="459.3" width="11.0" height="22.5" rx="1" fill="#8a8a8a" stroke="#5a5a5a" stroke-width="1"/>
<rect x="485.5" y="468.1" width="8.0" height="5" fill="#d0d0d0"/>
<path d="M484,470.6 L495,470.6" fill="none" stroke="#222" stroke-width="1.2" stroke-linecap="round" stroke-linejoin="round"/>
<rect x="541.8" y="474.3" width="7.8" height="19.1" rx="1" fill="#8a8a8a" stroke="#5a5a5a" stroke-width="1"/>
<rect x="543.3" y="481.4" width="4.8" height="5" fill="#d0d0d0"/>
<path d="M541.8,483.9 L549.6,483.9" fill="none" stroke="#222" stroke-width="1.2" stroke-linecap="round" stroke-linejoin="round"/>
<rect x="552.6" y="474.3" width="8.3" height="19.1" rx="1" fill="#8a8a8a" stroke="#5a5a5a" stroke-width="1"/>
<rect x="554.1" y="481.4" width="5.3" height="5" fill="#d0d0d0"/>
<path d="M552.6,483.9 L560.9,483.9" fill="none" stroke="#222" stroke-width="1.2" stroke-linecap="round" stroke-linejoin="round"/>
<rect x="484.0" y="583.9" width="11.0" height="21.5" rx="1" fill="#8a8a8a" stroke="#5a5a5a" stroke-width="1"/>
<rect x="485.5" y="592.1" width="8.0" height="5" fill="#d0d0d0"/>
<path d="M484,594.6 L495,594.6" fill="none" stroke="#222" stroke-width="1.2" stroke-linecap="round" stroke-linejoin="round"/>
<rect x="536.5" y="568.9" width="7.1" height="18.3" rx="1" fill="#8a8a8a" stroke="#5a5a5a" stroke-width="1"/>
<rect x="538.0" y="575.5" width="4.1" height="5" fill="#d0d0d0"/>
<path d="M536.5,578.0 L543.6,578.0" fill="none" stroke="#222" stroke-width="1.2" stroke-linecap="round" stroke-linejoin="round"/>
<rect x="546.4" y="568.9" width="7.2" height="18.3" rx="1" fill="#8a8a8a" stroke="#5a5a5a" stroke-width="1"/>
<rect x="547.9" y="575.5" width="4.2" height="5" fill="#d0d0d0"/>
<path d="M546.4,578.0 L553.6,578.0" fill="none" stroke="#222" stroke-width="1.2" stroke-linecap="round" stroke-linejoin="round"/>
<rect x="578.3" y="441.0" width="22.4" height="11.2" rx="1" fill="#8a8a8a" stroke="#5a5a5a" stroke-width="1"/>
<path d="M589.5,441 L589.5,452.2" fill="none" stroke="#111" stroke-width="2" stroke-linecap="round" stroke-linejoin="round"/>
<rect x="578.3" y="613.0" width="22.4" height="11.5" rx="1" fill="#8a8a8a" stroke="#5a5a5a" stroke-width="1"/>
<path d="M589.5,613 L589.5,624.5" fill="none" stroke="#111" stroke-width="2" stroke-linecap="round" stroke-linejoin="round"/>
<rect x="462.3" y="519.9" width="11.0" height="5.5" rx="1.8" fill="#5e5e5e" stroke="#333" stroke-width="1.1"/>
<path d="M467.8,520.9 L467.8,524.4 M464.3,522.6 L471.3,522.6" fill="none" stroke="#cfcfcf" stroke-width="0.9" stroke-linecap="round" stroke-linejoin="round"/>
<rect x="462.3" y="536.1" width="11.0" height="5.5" rx="1.8" fill="#5e5e5e" stroke="#333" stroke-width="1.1"/>
<path d="M467.8,537.1 L467.8,540.6 M464.3,538.9 L471.3,538.9" fill="none" stroke="#cfcfcf" stroke-width="0.9" stroke-linecap="round" stroke-linejoin="round"/>
<rect x="462.3" y="548.2" width="11.0" height="5.5" rx="1.8" fill="#5e5e5e" stroke="#333" stroke-width="1.1"/>
<path d="M467.8,549.2 L467.8,552.8 M464.3,551.0 L471.3,551.0" fill="none" stroke="#cfcfcf" stroke-width="0.9" stroke-linecap="round" stroke-linejoin="round"/>
<rect x="462.3" y="563.6" width="11.0" height="5.5" rx="1.8" fill="#5e5e5e" stroke="#333" stroke-width="1.1"/>
<path d="M467.8,564.6 L467.8,568.1 M464.3,566.4 L471.3,566.4" fill="none" stroke="#cfcfcf" stroke-width="0.9" stroke-linecap="round" stroke-linejoin="round"/>
<rect x="462.3" y="576.5" width="11.0" height="5.5" rx="1.8" fill="#5e5e5e" stroke="#333" stroke-width="1.1"/>
<path d="M467.8,577.5 L467.8,581.0 M464.3,579.2 L471.3,579.2" fill="none" stroke="#cfcfcf" stroke-width="0.9" stroke-linecap="round" stroke-linejoin="round"/>
<rect x="467.0" y="503.9" width="11.0" height="5.5" rx="1.8" fill="#5e5e5e" stroke="#333" stroke-width="1.1"/>
<path d="M472.5,504.9 L472.5,508.4 M469.0,506.7 L476.0,506.7" fill="none" stroke="#cfcfcf" stroke-width="0.9" stroke-linecap="round" stroke-linejoin="round"/>
<rect x="497.5" y="501.9" width="11.0" height="5.5" rx="1.8" fill="#5e5e5e" stroke="#333" stroke-width="1.1"/>
<path d="M503.0,502.9 L503.0,506.4 M499.5,504.6 L506.5,504.6" fill="none" stroke="#cfcfcf" stroke-width="0.9" stroke-linecap="round" stroke-linejoin="round"/>
<rect x="497.5" y="509.8" width="11.0" height="5.5" rx="1.8" fill="#5e5e5e" stroke="#333" stroke-width="1.1"/>
<path d="M503.0,510.8 L503.0,514.2 M499.5,512.5 L506.5,512.5" fill="none" stroke="#cfcfcf" stroke-width="0.9" stroke-linecap="round" stroke-linejoin="round"/>
<rect x="497.5" y="544.0" width="11.0" height="5.5" rx="1.8" fill="#5e5e5e" stroke="#333" stroke-width="1.1"/>
<path d="M503.0,545.0 L503.0,548.5 M499.5,546.8 L506.5,546.8" fill="none" stroke="#cfcfcf" stroke-width="0.9" stroke-linecap="round" stroke-linejoin="round"/>
<rect x="497.5" y="551.8" width="11.0" height="5.5" rx="1.8" fill="#5e5e5e" stroke="#333" stroke-width="1.1"/>
<path d="M503.0,552.8 L503.0,556.2 M499.5,554.5 L506.5,554.5" fill="none" stroke="#cfcfcf" stroke-width="0.9" stroke-linecap="round" stroke-linejoin="round"/>
<rect x="605.9" y="521.2" width="11.0" height="5.5" rx="1.8" fill="#5e5e5e" stroke="#333" stroke-width="1.1"/>
<path d="M611.4,522.2 L611.4,525.8 M607.9,524.0 L614.9,524.0" fill="none" stroke="#cfcfcf" stroke-width="0.9" stroke-linecap="round" stroke-linejoin="round"/>
<rect x="605.9" y="527.8" width="11.0" height="5.5" rx="1.8" fill="#5e5e5e" stroke="#333" stroke-width="1.1"/>
<path d="M611.4,528.8 L611.4,532.2 M607.9,530.5 L614.9,530.5" fill="none" stroke="#cfcfcf" stroke-width="0.9" stroke-linecap="round" stroke-linejoin="round"/>
<rect x="605.9" y="534.9" width="11.0" height="5.5" rx="1.8" fill="#5e5e5e" stroke="#333" stroke-width="1.1"/>
<path d="M611.4,535.9 L611.4,539.4 M607.9,537.6 L614.9,537.6" fill="none" stroke="#cfcfcf" stroke-width="0.9" stroke-linecap="round" stroke-linejoin="round"/>
<rect x="605.9" y="541.8" width="11.0" height="5.5" rx="1.8" fill="#5e5e5e" stroke="#333" stroke-width="1.1"/>
<path d="M611.4,542.8 L611.4,546.2 M607.9,544.5 L614.9,544.5" fill="none" stroke="#cfcfcf" stroke-width="0.9" stroke-linecap="round" stroke-linejoin="round"/>
<rect x="605.9" y="548.9" width="11.0" height="5.5" rx="1.8" fill="#5e5e5e" stroke="#333" stroke-width="1.1"/>
<path d="M611.4,549.9 L611.4,553.4 M607.9,551.6 L614.9,551.6" fill="none" stroke="#cfcfcf" stroke-width="0.9" stroke-linecap="round" stroke-linejoin="round"/>
<rect x="605.9" y="555.9" width="11.0" height="5.5" rx="1.8" fill="#5e5e5e" stroke="#333" stroke-width="1.1"/>
<path d="M611.4,556.9 L611.4,560.4 M607.9,558.6 L614.9,558.6" fill="none" stroke="#cfcfcf" stroke-width="0.9" stroke-linecap="round" stroke-linejoin="round"/>
<rect x="600.3" y="506.8" width="11.0" height="5.5" rx="1.8" fill="#5e5e5e" stroke="#333" stroke-width="1.1"/>
<path d="M605.8,507.8 L605.8,511.2 M602.3,509.5 L609.3,509.5" fill="none" stroke="#cfcfcf" stroke-width="0.9" stroke-linecap="round" stroke-linejoin="round"/>
<rect x="600.3" y="513.2" width="11.0" height="5.5" rx="1.8" fill="#5e5e5e" stroke="#333" stroke-width="1.1"/>
<path d="M605.8,514.2 L605.8,517.8 M602.3,516.0 L609.3,516.0" fill="none" stroke="#cfcfcf" stroke-width="0.9" stroke-linecap="round" stroke-linejoin="round"/>
<rect x="585.9" y="546.5" width="11.0" height="5.5" rx="1.8" fill="#5e5e5e" stroke="#333" stroke-width="1.1"/>
<path d="M591.4,547.5 L591.4,551.0 M587.9,549.2 L594.9,549.2" fill="none" stroke="#cfcfcf" stroke-width="0.9" stroke-linecap="round" stroke-linejoin="round"/>
<rect x="585.9" y="553.4" width="11.0" height="5.5" rx="1.8" fill="#5e5e5e" stroke="#333" stroke-width="1.1"/>
<path d="M591.4,554.4 L591.4,557.9 M587.9,556.1 L594.9,556.1" fill="none" stroke="#cfcfcf" stroke-width="0.9" stroke-linecap="round" stroke-linejoin="round"/>
<rect x="585.9" y="560.5" width="11.0" height="5.5" rx="1.8" fill="#5e5e5e" stroke="#333" stroke-width="1.1"/>
<path d="M591.4,561.5 L591.4,565.0 M587.9,563.3 L594.9,563.3" fill="none" stroke="#cfcfcf" stroke-width="0.9" stroke-linecap="round" stroke-linejoin="round"/>
<rect x="583.8" y="511.0" width="7.0" height="18.5" rx="1" fill="#8a8a8a" stroke="#5a5a5a" stroke-width="1"/>
<rect x="585.3" y="517.8" width="4.0" height="5" fill="#d0d0d0"/>
<path d="M583.8,520.2 L590.8,520.2" fill="none" stroke="#222" stroke-width="1.2" stroke-linecap="round" stroke-linejoin="round"/>
<rect x="592.3" y="506.4" width="4.6" height="10.0" rx="1" fill="#8a8a8a" stroke="#333" stroke-width="1"/>
<rect x="533.2" y="508.5" width="2" height="5.5" fill="#999" stroke="#333" stroke-width="0.6"/><rect x="533.2" y="551.8" width="2" height="5.5" fill="#999" stroke="#333" stroke-width="0.6"/><rect x="527.3" y="515.5" width="5.5" height="2" fill="#999" stroke="#333" stroke-width="0.6"/><rect x="570.8" y="515.5" width="5.5" height="2" fill="#999" stroke="#333" stroke-width="0.6"/><rect x="536.8" y="508.5" width="2" height="5.5" fill="#999" stroke="#333" stroke-width="0.6"/><rect x="536.8" y="551.8" width="2" height="5.5" fill="#999" stroke="#333" stroke-width="0.6"/><rect x="527.3" y="518.9" width="5.5" height="2" fill="#999" stroke="#333" stroke-width="0.6"/><rect x="570.8" y="518.9" width="5.5" height="2" fill="#999" stroke="#333" stroke-width="0.6"/><rect x="540.3" y="508.5" width="2" height="5.5" fill="#999" stroke="#333" stroke-width="0.6"/><rect x="540.3" y="551.8" width="2" height="5.5" fill="#999" stroke="#333" stroke-width="0.6"/><rect x="527.3" y="522.3" width="5.5" height="2" fill="#999" stroke="#333" stroke-width="0.6"/><rect x="570.8" y="522.3" width="5.5" height="2" fill="#999" stroke="#333" stroke-width="0.6"/><rect x="543.9" y="508.5" width="2" height="5.5" fill="#999" stroke="#333" stroke-width="0.6"/><rect x="543.9" y="551.8" width="2" height="5.5" fill="#999" stroke="#333" stroke-width="0.6"/><rect x="527.3" y="525.7" width="5.5" height="2" fill="#999" stroke="#333" stroke-width="0.6"/><rect x="570.8" y="525.7" width="5.5" height="2" fill="#999" stroke="#333" stroke-width="0.6"/><rect x="547.4" y="508.5" width="2" height="5.5" fill="#999" stroke="#333" stroke-width="0.6"/><rect x="547.4" y="551.8" width="2" height="5.5" fill="#999" stroke="#333" stroke-width="0.6"/><rect x="527.3" y="529.1" width="5.5" height="2" fill="#999" stroke="#333" stroke-width="0.6"/><rect x="570.8" y="529.1" width="5.5" height="2" fill="#999" stroke="#333" stroke-width="0.6"/><rect x="551.0" y="508.5" width="2" height="5.5" fill="#999" stroke="#333" stroke-width="0.6"/><rect x="551.0" y="551.8" width="2" height="5.5" fill="#999" stroke="#333" stroke-width="0.6"/><rect x="527.3" y="532.5" width="5.5" height="2" fill="#999" stroke="#333" stroke-width="0.6"/><rect x="570.8" y="532.5" width="5.5" height="2" fill="#999" stroke="#333" stroke-width="0.6"/><rect x="554.5" y="508.5" width="2" height="5.5" fill="#999" stroke="#333" stroke-width="0.6"/><rect x="554.5" y="551.8" width="2" height="5.5" fill="#999" stroke="#333" stroke-width="0.6"/><rect x="527.3" y="535.9" width="5.5" height="2" fill="#999" stroke="#333" stroke-width="0.6"/><rect x="570.8" y="535.9" width="5.5" height="2" fill="#999" stroke="#333" stroke-width="0.6"/><rect x="558.1" y="508.5" width="2" height="5.5" fill="#999" stroke="#333" stroke-width="0.6"/><rect x="558.1" y="551.8" width="2" height="5.5" fill="#999" stroke="#333" stroke-width="0.6"/><rect x="527.3" y="539.3" width="5.5" height="2" fill="#999" stroke="#333" stroke-width="0.6"/><rect x="570.8" y="539.3" width="5.5" height="2" fill="#999" stroke="#333" stroke-width="0.6"/><rect x="561.6" y="508.5" width="2" height="5.5" fill="#999" stroke="#333" stroke-width="0.6"/><rect x="561.6" y="551.8" width="2" height="5.5" fill="#999" stroke="#333" stroke-width="0.6"/><rect x="527.3" y="542.7" width="5.5" height="2" fill="#999" stroke="#333" stroke-width="0.6"/><rect x="570.8" y="542.7" width="5.5" height="2" fill="#999" stroke="#333" stroke-width="0.6"/><rect x="565.2" y="508.5" width="2" height="5.5" fill="#999" stroke="#333" stroke-width="0.6"/><rect x="565.2" y="551.8" width="2" height="5.5" fill="#999" stroke="#333" stroke-width="0.6"/><rect x="527.3" y="546.1" width="5.5" height="2" fill="#999" stroke="#333" stroke-width="0.6"/><rect x="570.8" y="546.1" width="5.5" height="2" fill="#999" stroke="#333" stroke-width="0.6"/>
<rect x="536.5" y="517.4" width="30.5" height="29.9" rx="0" fill="#7d7d7d" stroke="none" stroke-width="0"/>
<path d="M529,512 L532,509.5 M573.5,509 L576,509 L576,512 M576,554 L576,557 L573,557 M530,557 L527.5,557 L527.5,554" fill="none" stroke="#111" stroke-width="1.6" stroke-linecap="round" stroke-linejoin="round"/>
<circle cx="524.8" cy="512.3" r="1.4" fill="#111" stroke="none" stroke-width="0"/>
<rect x="508.0" y="766.5" width="22.5" height="23.5" rx="0" fill="#111" stroke="none" stroke-width="0"/>
<path d="M511.5,769.6 L511.5,786.8 L527,778.2 Z" fill="#fff" stroke="none" stroke-width="0" stroke-linecap="round" stroke-linejoin="round"/>
<text x="533.5" y="777.2" font-size="15.5" text-anchor="start" font-weight="bold" fill="#111" textLength="62.5" lengthAdjust="spacingAndGlyphs">ANALOG</text>
<text x="534.0" y="790.2" font-size="15.5" text-anchor="start" font-weight="bold" fill="#111" textLength="63" lengthAdjust="spacingAndGlyphs">DEVICES</text>
<path d="M507,794 L597,794" fill="none" stroke="#777" stroke-width="1.4" stroke-linecap="round" stroke-linejoin="round"/>
<path d="M508.3,798.5 L508.3,824 L531.7,811.6 M508.3,798.5 L516,802.3" fill="none" stroke="#888" stroke-width="1.1" stroke-linecap="round" stroke-linejoin="round"/>
<path d="M520.1,798.2 L537.2,798.2 C535,801 533,803 532.1,804.5 C531,807 529.5,809.5 527.7,810.9 L510.6,811.6 C512.5,808 514.5,804.5 516.8,801.8 C518,800 519,799 520.1,798.2 Z M523.7,800.3 C521,800.3 519,802.5 519,805 C519,807.3 520.5,809 523.7,809 C526.8,809 528.4,806.8 528.4,804.5 C528.4,802 526.5,800.3 523.7,800.3 Z" fill="#111" fill-rule="evenodd"/>
<text x="540.0" y="805.2" font-size="8.6" text-anchor="start" font-weight="bold" fill="#333" textLength="56" lengthAdjust="spacingAndGlyphs">POWER BY</text>
<text x="540.5" y="825.0" font-size="20" text-anchor="start" font-weight="bold" fill="#111" textLength="53.5" lengthAdjust="spacingAndGlyphs">LINEAR</text>
<text x="597.0" y="823.5" font-size="4.5" text-anchor="start" font-weight="bold" fill="#111">TM</text>
<rect x="780.0" y="775.5" width="20.5" height="23.0" rx="1.5" fill="#fff" stroke="#1a1a1a" stroke-width="1.8"/>
<text x="790.2" y="790.9" font-size="10" text-anchor="middle" font-weight="normal" fill="#111" textLength="12.4" lengthAdjust="spacingAndGlyphs">L4</text>
<rect x="831.5" y="779.0" width="22.5" height="21.0" rx="1.5" fill="#fff" stroke="#1a1a1a" stroke-width="1.8"/>
<text x="842.8" y="793.4" font-size="10" text-anchor="middle" font-weight="normal" fill="#111" textLength="12.4" lengthAdjust="spacingAndGlyphs">L3</text>
<rect x="780.0" y="872.8" width="20.5" height="23.0" rx="1.5" fill="#fff" stroke="#1a1a1a" stroke-width="1.8"/>
<text x="790.2" y="888.2" font-size="10" text-anchor="middle" font-weight="normal" fill="#111" textLength="12.4" lengthAdjust="spacingAndGlyphs">L1</text>
<rect x="830.0" y="870.7" width="23.0" height="20.3" rx="1.5" fill="#fff" stroke="#1a1a1a" stroke-width="1.8"/>
<text x="841.5" y="884.7" font-size="10" text-anchor="middle" font-weight="normal" fill="#111" textLength="12.4" lengthAdjust="spacingAndGlyphs">L2</text>
<path d="M805,820 L832,820 L832,851.5 L800.5,851.5 L800.5,824.5 Z" fill="#fff" stroke="#777" stroke-width="1.6" stroke-linecap="round" stroke-linejoin="round"/>
<text x="816.5" y="839.6" font-size="10" text-anchor="middle" font-weight="normal" fill="#222">U1</text>
<circle cx="805.0" cy="825.0" r="1.3" fill="#111" stroke="none" stroke-width="0"/>
<rect x="834.0" y="768.4" width="18.2" height="8.8" rx="1.5" fill="#bdbdbd" stroke="#1a1a1a" stroke-width="1.8"/>
<text x="843.1" y="776.5" font-size="9.5" text-anchor="middle" font-weight="bold" fill="#111" textLength="15.200000000000045" lengthAdjust="spacingAndGlyphs">C15</text>
<rect x="756.6" y="778.0" width="10.4" height="18.4" rx="1.5" fill="#5c5c5c" stroke="#1a1a1a" stroke-width="1.8"/>
<g transform="translate(761.8,787.2) rotate(-90)">
<text x="0.0" y="3.7" font-size="9.5" text-anchor="middle" font-weight="bold" fill="#d8d8d8" textLength="15.399999999999977" lengthAdjust="spacingAndGlyphs">C12</text>
</g>
<rect x="768.0" y="778.0" width="10.6" height="18.4" rx="1.5" fill="#5c5c5c" stroke="#1a1a1a" stroke-width="1.8"/>
<g transform="translate(773.3,787.2) rotate(-90)">
<text x="0.0" y="3.7" font-size="9.5" text-anchor="middle" font-weight="bold" fill="#d8d8d8" textLength="15.399999999999977" lengthAdjust="spacingAndGlyphs">C13</text>
</g>
<rect x="804.0" y="794.0" width="11.2" height="14.6" rx="1.5" fill="#5c5c5c" stroke="#1a1a1a" stroke-width="1.8"/>
<g transform="translate(809.6,801.3) rotate(-90)">
<text x="0.0" y="3.7" font-size="9.5" text-anchor="middle" font-weight="bold" fill="#d8d8d8" textLength="11.600000000000023" lengthAdjust="spacingAndGlyphs">C9</text>
</g>
<rect x="815.8" y="794.0" width="10.2" height="14.6" rx="1.5" fill="#5c5c5c" stroke="#1a1a1a" stroke-width="1.8"/>
<g transform="translate(820.9,801.3) rotate(-90)">
<text x="0.0" y="3.7" font-size="9.5" text-anchor="middle" font-weight="bold" fill="#d8d8d8" textLength="11.600000000000023" lengthAdjust="spacingAndGlyphs">C6</text>
</g>
<rect x="747.8" y="807.5" width="18.2" height="10.5" rx="1.5" fill="#fff" stroke="#1a1a1a" stroke-width="1.8"/>
<text x="756.9" y="816.5" font-size="9.5" text-anchor="middle" font-weight="bold" fill="#111" textLength="11.78" lengthAdjust="spacingAndGlyphs">C2</text>
<rect x="735.0" y="819.0" width="18.5" height="9.5" rx="1.5" fill="#fff" stroke="#1a1a1a" stroke-width="1.8"/>
<text x="744.2" y="827.5" font-size="9.5" text-anchor="middle" font-weight="bold" fill="#111" textLength="11.78" lengthAdjust="spacingAndGlyphs">C3</text>
<rect x="735.0" y="832.6" width="18.5" height="10.4" rx="1.5" fill="#fff" stroke="#1a1a1a" stroke-width="1.8"/>
<text x="744.2" y="841.5" font-size="9.5" text-anchor="middle" font-weight="bold" fill="#111" textLength="11.78" lengthAdjust="spacingAndGlyphs">C5</text>
<rect x="735.0" y="845.2" width="18.5" height="9.4" rx="1.5" fill="#fff" stroke="#1a1a1a" stroke-width="1.8"/>
<text x="744.2" y="853.6" font-size="9.5" text-anchor="middle" font-weight="bold" fill="#111" textLength="11.78" lengthAdjust="spacingAndGlyphs">C4</text>
<rect x="735.0" y="857.7" width="18.5" height="8.3" rx="1.5" fill="#fff" stroke="#1a1a1a" stroke-width="1.8"/>
<text x="744.2" y="865.6" font-size="9.5" text-anchor="middle" font-weight="bold" fill="#111" textLength="11.78" lengthAdjust="spacingAndGlyphs">C7</text>
<rect x="735.0" y="869.2" width="18.5" height="8.4" rx="1.5" fill="#fff" stroke="#1a1a1a" stroke-width="1.8"/>
<text x="744.2" y="877.1" font-size="9.5" text-anchor="middle" font-weight="bold" fill="#111" textLength="11.78" lengthAdjust="spacingAndGlyphs">C8</text>
<rect x="769.6" y="810.0" width="14.6" height="9.5" rx="1.5" fill="#5c5c5c" stroke="#1a1a1a" stroke-width="1.8"/>
<text x="776.9" y="818.5" font-size="9.5" text-anchor="middle" font-weight="bold" fill="#d8d8d8" textLength="11.600000000000023" lengthAdjust="spacingAndGlyphs">R2</text>
<rect x="769.6" y="821.0" width="14.6" height="9.5" rx="1.5" fill="#5c5c5c" stroke="#1a1a1a" stroke-width="1.8"/>
<text x="776.9" y="829.5" font-size="9.5" text-anchor="middle" font-weight="bold" fill="#d8d8d8" textLength="11.600000000000023" lengthAdjust="spacingAndGlyphs">R1</text>
<rect x="773.3" y="833.3" width="14.1" height="9.8" rx="1.5" fill="#5c5c5c" stroke="#1a1a1a" stroke-width="1.8"/>
<text x="780.3" y="841.9" font-size="9.5" text-anchor="middle" font-weight="bold" fill="#d8d8d8" textLength="11.100000000000023" lengthAdjust="spacingAndGlyphs">R3</text>
<rect x="773.3" y="845.2" width="14.1" height="9.4" rx="1.5" fill="#5c5c5c" stroke="#1a1a1a" stroke-width="1.8"/>
<text x="780.3" y="853.6" font-size="9.5" text-anchor="middle" font-weight="bold" fill="#d8d8d8" textLength="11.100000000000023" lengthAdjust="spacingAndGlyphs">R4</text>
<rect x="834.6" y="813.8" width="10.9" height="17.8" rx="1.5" fill="#fff" stroke="#1a1a1a" stroke-width="1.8"/>
<g transform="translate(840.0,822.7) rotate(-90)">
<text x="0.0" y="3.7" font-size="9.5" text-anchor="middle" font-weight="bold" fill="#111" textLength="11.78" lengthAdjust="spacingAndGlyphs">C1</text>
</g>
<rect x="846.6" y="805.4" width="10.4" height="17.6" rx="1.5" fill="#5c5c5c" stroke="#1a1a1a" stroke-width="1.8"/>
<g transform="translate(851.8,814.2) rotate(-90)">
<text x="0.0" y="3.3" font-size="8.5" text-anchor="middle" font-weight="bold" fill="#d8d8d8" textLength="10.54" lengthAdjust="spacingAndGlyphs">R5</text>
</g>
<rect x="859.0" y="806.0" width="19.0" height="8.9" rx="1.5" fill="#fff" stroke="#1a1a1a" stroke-width="1.8"/>
<text x="868.5" y="814.2" font-size="9.5" text-anchor="middle" font-weight="bold" fill="#111" textLength="11.78" lengthAdjust="spacingAndGlyphs">R9</text>
<rect x="859.0" y="817.0" width="19.0" height="10.0" rx="1.5" fill="#bdbdbd" stroke="#1a1a1a" stroke-width="1.8"/>
<text x="868.5" y="825.7" font-size="9.5" text-anchor="middle" font-weight="bold" fill="#111" textLength="16" lengthAdjust="spacingAndGlyphs">C16</text>
<rect x="839.2" y="833.3" width="18.8" height="9.8" rx="1.5" fill="#fff" stroke="#1a1a1a" stroke-width="1.8"/>
<text x="848.6" y="841.9" font-size="9.5" text-anchor="middle" font-weight="bold" fill="#111" textLength="15.799999999999955" lengthAdjust="spacingAndGlyphs">C18</text>
<rect x="839.2" y="845.2" width="18.8" height="10.4" rx="1.5" fill="#fff" stroke="#1a1a1a" stroke-width="1.8"/>
<text x="848.6" y="854.1" font-size="9.5" text-anchor="middle" font-weight="bold" fill="#111" textLength="15.799999999999955" lengthAdjust="spacingAndGlyphs">R12</text>
<rect x="839.2" y="857.3" width="18.8" height="9.9" rx="1.5" fill="#fff" stroke="#1a1a1a" stroke-width="1.8"/>
<text x="848.6" y="866.0" font-size="9.5" text-anchor="middle" font-weight="bold" fill="#111" textLength="15.799999999999955" lengthAdjust="spacingAndGlyphs">R13</text>
<rect x="866.0" y="833.7" width="21.4" height="9.3" rx="1.5" fill="#fff" stroke="#1a1a1a" stroke-width="1.8"/>
<text x="876.7" y="842.1" font-size="9.5" text-anchor="middle" font-weight="bold" fill="#111" textLength="11.78" lengthAdjust="spacingAndGlyphs">R7</text>
<rect x="866.0" y="845.8" width="21.4" height="9.8" rx="1.5" fill="#fff" stroke="#1a1a1a" stroke-width="1.8"/>
<text x="876.7" y="854.4" font-size="9.5" text-anchor="middle" font-weight="bold" fill="#111" textLength="11.78" lengthAdjust="spacingAndGlyphs">R6</text>
<rect x="866.0" y="858.4" width="21.4" height="9.6" rx="1.5" fill="#fff" stroke="#1a1a1a" stroke-width="1.8"/>
<text x="876.7" y="866.9" font-size="9.5" text-anchor="middle" font-weight="bold" fill="#111" textLength="17.669999999999998" lengthAdjust="spacingAndGlyphs">C14</text>
<rect x="866.0" y="870.3" width="21.4" height="10.5" rx="1.5" fill="#bdbdbd" stroke="#1a1a1a" stroke-width="1.8"/>
<text x="876.7" y="879.3" font-size="9.5" text-anchor="middle" font-weight="bold" fill="#111" textLength="17.669999999999998" lengthAdjust="spacingAndGlyphs">C20</text>
<rect x="866.0" y="882.8" width="21.4" height="10.1" rx="1.5" fill="#bdbdbd" stroke="#1a1a1a" stroke-width="1.8"/>
<text x="876.7" y="891.6" font-size="9.5" text-anchor="middle" font-weight="bold" fill="#111" textLength="17.669999999999998" lengthAdjust="spacingAndGlyphs">R15</text>
<rect x="866.0" y="895.0" width="21.4" height="10.9" rx="1.5" fill="#fff" stroke="#1a1a1a" stroke-width="1.8"/>
<text x="876.7" y="904.2" font-size="9.5" text-anchor="middle" font-weight="bold" fill="#111" textLength="17.669999999999998" lengthAdjust="spacingAndGlyphs">R16</text>
<rect x="768.0" y="875.5" width="10.6" height="18.5" rx="1.5" fill="#5c5c5c" stroke="#1a1a1a" stroke-width="1.8"/>
<g transform="translate(773.3,884.8) rotate(-90)">
<text x="0.0" y="3.3" font-size="8.5" text-anchor="middle" font-weight="bold" fill="#d8d8d8" textLength="15.5" lengthAdjust="spacingAndGlyphs">C19</text>
</g>
<rect x="804.0" y="863.0" width="10.6" height="17.8" rx="1.5" fill="#5c5c5c" stroke="#1a1a1a" stroke-width="1.8"/>
<g transform="translate(809.3,871.9) rotate(-90)">
<text x="0.0" y="3.7" font-size="9.5" text-anchor="middle" font-weight="bold" fill="#d8d8d8" textLength="14.799999999999955" lengthAdjust="spacingAndGlyphs">C11</text>
</g>
<rect x="815.5" y="863.0" width="10.5" height="17.8" rx="1.5" fill="#5c5c5c" stroke="#1a1a1a" stroke-width="1.8"/>
<g transform="translate(820.8,871.9) rotate(-90)">
<text x="0.0" y="3.7" font-size="9.5" text-anchor="middle" font-weight="bold" fill="#d8d8d8" textLength="14.799999999999955" lengthAdjust="spacingAndGlyphs">C10</text>
</g>
<rect x="833.0" y="892.3" width="19.2" height="10.4" rx="1.5" fill="#bdbdbd" stroke="#1a1a1a" stroke-width="1.8"/>
<text x="842.6" y="901.2" font-size="9.5" text-anchor="middle" font-weight="bold" fill="#111" textLength="16.200000000000045" lengthAdjust="spacingAndGlyphs">C17</text>
<text x="366.0" y="865.7" font-size="11.5" text-anchor="middle" font-weight="bold" fill="#111">EN_L1</text>
<text x="418.0" y="865.7" font-size="11.5" text-anchor="middle" font-weight="bold" fill="#111">EN_L2</text>
<text x="470.0" y="865.7" font-size="11.5" text-anchor="middle" font-weight="bold" fill="#111">EN_L3</text>
<text x="517.5" y="865.7" font-size="11.5" text-anchor="middle" font-weight="bold" fill="#111">EN_B1</text>
<text x="565.0" y="865.7" font-size="11.5" text-anchor="middle" font-weight="bold" fill="#111">EN_B2</text>
<text x="613.0" y="865.7" font-size="11.5" text-anchor="middle" font-weight="bold" fill="#111">EN_B3</text>
<text x="660.7" y="865.7" font-size="11.5" text-anchor="middle" font-weight="bold" fill="#111">EN_B4</text>
<text x="708.5" y="865.7" font-size="11.5" text-anchor="middle" font-weight="bold" fill="#111">GND</text>
<circle cx="413.5" cy="180.0" r="14.5" fill="#8c8c8c" stroke="#1a1a1a" stroke-width="3"/>
<circle cx="413.5" cy="180.0" r="10.4" fill="#e01010" stroke="none" stroke-width="0"/>
<circle cx="484.8" cy="179.6" r="14.5" fill="#8c8c8c" stroke="#1a1a1a" stroke-width="3"/>
<circle cx="484.8" cy="179.6" r="10.4" fill="#0a0a0a" stroke="none" stroke-width="0"/>
<circle cx="184.6" cy="427.3" r="14.5" fill="#8c8c8c" stroke="#1a1a1a" stroke-width="3"/>
<circle cx="184.6" cy="427.3" r="10.4" fill="#e01010" stroke="none" stroke-width="0"/>
<circle cx="184.6" cy="480.7" r="14.5" fill="#8c8c8c" stroke="#1a1a1a" stroke-width="3"/>
<circle cx="184.6" cy="480.7" r="10.4" fill="#0a0a0a" stroke="none" stroke-width="0"/>
<circle cx="184.6" cy="532.8" r="14.5" fill="#8c8c8c" stroke="#1a1a1a" stroke-width="3"/>
<circle cx="184.6" cy="532.8" r="10.4" fill="#e01010" stroke="none" stroke-width="0"/>
<circle cx="184.6" cy="585.0" r="14.5" fill="#8c8c8c" stroke="#1a1a1a" stroke-width="3"/>
<circle cx="184.6" cy="585.0" r="10.4" fill="#0a0a0a" stroke="none" stroke-width="0"/>
<circle cx="184.0" cy="698.2" r="14.5" fill="#8c8c8c" stroke="#1a1a1a" stroke-width="3"/>
<circle cx="184.0" cy="698.2" r="10.4" fill="#e01010" stroke="none" stroke-width="0"/>
<circle cx="184.5" cy="750.8" r="14.5" fill="#8c8c8c" stroke="#1a1a1a" stroke-width="3"/>
<circle cx="184.5" cy="750.8" r="10.4" fill="#0a0a0a" stroke="none" stroke-width="0"/>
<circle cx="246.3" cy="885.3" r="14.5" fill="#8c8c8c" stroke="#1a1a1a" stroke-width="3"/>
<circle cx="246.3" cy="885.3" r="10.4" fill="#e01010" stroke="none" stroke-width="0"/>
<circle cx="308.0" cy="885.3" r="14.5" fill="#8c8c8c" stroke="#1a1a1a" stroke-width="3"/>
<circle cx="308.0" cy="885.3" r="10.4" fill="#0a0a0a" stroke="none" stroke-width="0"/>
<circle cx="918.8" cy="503.8" r="14.5" fill="#8c8c8c" stroke="#1a1a1a" stroke-width="3"/>
<circle cx="918.8" cy="503.8" r="10.4" fill="#e01010" stroke="none" stroke-width="0"/>
<circle cx="918.8" cy="560.0" r="14.5" fill="#8c8c8c" stroke="#1a1a1a" stroke-width="3"/>
<circle cx="918.8" cy="560.0" r="10.4" fill="#0a0a0a" stroke="none" stroke-width="0"/>
<circle cx="918.8" cy="622.6" r="14.5" fill="#8c8c8c" stroke="#1a1a1a" stroke-width="3"/>
<circle cx="918.8" cy="622.6" r="10.4" fill="#e01010" stroke="none" stroke-width="0"/>
<circle cx="918.8" cy="680.3" r="14.5" fill="#8c8c8c" stroke="#1a1a1a" stroke-width="3"/>
<circle cx="918.8" cy="680.3" r="10.4" fill="#0a0a0a" stroke="none" stroke-width="0"/>
<circle cx="918.8" cy="741.9" r="14.5" fill="#8c8c8c" stroke="#1a1a1a" stroke-width="3"/>
<circle cx="918.8" cy="741.9" r="10.4" fill="#e01010" stroke="none" stroke-width="0"/>
<circle cx="918.8" cy="798.3" r="14.5" fill="#8c8c8c" stroke="#1a1a1a" stroke-width="3"/>
<circle cx="918.8" cy="798.3" r="10.4" fill="#0a0a0a" stroke="none" stroke-width="0"/>
<path d="M416,84 C404,96 399,108 402,118 C405,124 399,128 401,140 C403,155 408,168 413,180" fill="none" stroke="#e01010" stroke-width="5.1" stroke-linecap="round" stroke-linejoin="round"/>
<path d="M420,128 C421,145 420,160 413,180" fill="none" stroke="#e01010" stroke-width="5.1" stroke-linecap="round" stroke-linejoin="round"/>
<path d="M483,84 C492,100 497,120 495,140 C494,158 490,170 485,180" fill="none" stroke="#0a0a0a" stroke-width="5.1" stroke-linecap="round" stroke-linejoin="round"/>
<path d="M478,118 C480,140 481,160 485,180" fill="none" stroke="#0a0a0a" stroke-width="5.1" stroke-linecap="round" stroke-linejoin="round"/>
<path d="M89.6,424.5 C95,415 103,414 120,414 L160,414.5 C172,415 180,420 184.6,427.3" fill="none" stroke="#e01010" stroke-width="5.1" stroke-linecap="round" stroke-linejoin="round"/>
<path d="M131.5,428 L184.6,427.5" fill="none" stroke="#e01010" stroke-width="5.1" stroke-linecap="round" stroke-linejoin="round"/>
<path d="M89.6,481.5 C100,480 130,480 160,480.5 L184.6,480.7" fill="none" stroke="#0a0a0a" stroke-width="5.1" stroke-linecap="round" stroke-linejoin="round"/>
<path d="M120,481 C150,487 170,488 184.6,484" fill="none" stroke="#0a0a0a" stroke-width="5.1" stroke-linecap="round" stroke-linejoin="round"/>
<path d="M89.6,531 C95,521 103,519.5 120,519.5 L160,520 C172,521 180,526 184.6,532.8" fill="none" stroke="#e01010" stroke-width="5.1" stroke-linecap="round" stroke-linejoin="round"/>
<path d="M131.5,533 L184.6,532.8" fill="none" stroke="#e01010" stroke-width="5.1" stroke-linecap="round" stroke-linejoin="round"/>
<path d="M89.6,587.7 C100,596 120,597 150,595.5 C170,594 178,590 184.6,585" fill="none" stroke="#0a0a0a" stroke-width="5.1" stroke-linecap="round" stroke-linejoin="round"/>
<path d="M125,584.8 L184.6,585" fill="none" stroke="#0a0a0a" stroke-width="5.1" stroke-linecap="round" stroke-linejoin="round"/>
<path d="M101.8,681 C108,686 118,689 135,690 C155,691 170,692 184,698" fill="none" stroke="#e01010" stroke-width="5.1" stroke-linecap="round" stroke-linejoin="round"/>
<path d="M101.8,768 C106,762 115,759 135,757 C155,755 170,754 184.5,751" fill="none" stroke="#0a0a0a" stroke-width="5.1" stroke-linecap="round" stroke-linejoin="round"/>
<path d="M246.3,885.3 C238,893 233,903 231,913 C227,935 224,960 226,972 C228,982 233,987 242,989" fill="none" stroke="#e01010" stroke-width="5.1" stroke-linecap="round" stroke-linejoin="round"/>
<path d="M246.3,885.3 C243,895 241,903 241,913 C240,925 243,940 249,952" fill="none" stroke="#e01010" stroke-width="5.1" stroke-linecap="round" stroke-linejoin="round"/>
<path d="M308,885.3 C318,893 324,903 326.5,913 C330,935 331,960 330,972 C329,980 326,985 321,989" fill="none" stroke="#0a0a0a" stroke-width="5.1" stroke-linecap="round" stroke-linejoin="round"/>
<path d="M308,885.3 C314,895 317,903 317.5,913 C318,925 315,940 309,950" fill="none" stroke="#0a0a0a" stroke-width="5.1" stroke-linecap="round" stroke-linejoin="round"/>
<path d="M919,503.8 C921,497.5 926,494.5 938,494.5 C970,495.5 1000,499.0 1017,501.2" fill="none" stroke="#e01010" stroke-width="5.1" stroke-linecap="round" stroke-linejoin="round"/>
<path d="M919,503.8 C930,503.8 945,504.3 960,504.8 L976,505.6" fill="none" stroke="#e01010" stroke-width="5.1" stroke-linecap="round" stroke-linejoin="round"/>
<path d="M919,560 C935,558 945,558 978.5,558" fill="none" stroke="#0a0a0a" stroke-width="5.1" stroke-linecap="round" stroke-linejoin="round"/>
<path d="M919,560 C923,567 935,571.5 965,573.5 C990,574.0 1008,571.5 1017,562.5" fill="none" stroke="#0a0a0a" stroke-width="5.1" stroke-linecap="round" stroke-linejoin="round"/>
<path d="M919,622.6 C921,616.3000000000001 926,613.3000000000001 938,613.3000000000001 C970,614.3000000000001 1000,617.8000000000001 1017,626.3" fill="none" stroke="#e01010" stroke-width="5.1" stroke-linecap="round" stroke-linejoin="round"/>
<path d="M919,622.6 C930,622.6 945,623.1 960,623.6 L976,624.4" fill="none" stroke="#e01010" stroke-width="5.1" stroke-linecap="round" stroke-linejoin="round"/>
<path d="M919,680.3 C935,679.4 945,679.4 975,679.4" fill="none" stroke="#0a0a0a" stroke-width="5.1" stroke-linecap="round" stroke-linejoin="round"/>
<path d="M919,680.3 C923,687.3 935,691.8 965,693.8 C990,694.3 1008,691.8 1017,687.5999999999999" fill="none" stroke="#0a0a0a" stroke-width="5.1" stroke-linecap="round" stroke-linejoin="round"/>
<path d="M919,741.9 C921,735.6 926,732.6 938,732.6 C970,733.6 1000,737.1 1017,743.6" fill="none" stroke="#e01010" stroke-width="5.1" stroke-linecap="round" stroke-linejoin="round"/>
<path d="M919,741.9 C930,741.9 945,742.4 960,742.9 L976,743.6999999999999" fill="none" stroke="#e01010" stroke-width="5.1" stroke-linecap="round" stroke-linejoin="round"/>
<path d="M919,798.3 C935,799.2 945,799.2 974,799.2" fill="none" stroke="#0a0a0a" stroke-width="5.1" stroke-linecap="round" stroke-linejoin="round"/>
<path d="M919,798.3 C923,805.3 935,809.8 965,811.8 C990,812.3 1008,809.8 1017,804.9" fill="none" stroke="#0a0a0a" stroke-width="5.1" stroke-linecap="round" stroke-linejoin="round"/>
<rect x="404.7" y="11.0" width="88.5" height="72.2" rx="2" fill="#a9a9a9" stroke="#111" stroke-width="2.6"/>
<text x="449.0" y="34.6" font-size="24" text-anchor="middle" font-weight="bold" fill="#111" textLength="42" lengthAdjust="spacingAndGlyphs">LD4</text>
<text x="449.7" y="63.2" font-size="19.5" text-anchor="middle" font-weight="bold" fill="#111" textLength="39" lengthAdjust="spacingAndGlyphs">1.5A</text>
<path d="M410.0,73.2 L420.8,73.2 M415.4,67.9 L415.4,78.5" stroke="#111" stroke-width="2.7" fill="none"/>
<path d="M476.8,74.1 L487.6,74.1" stroke="#111" stroke-width="2.8" fill="none"/>
<circle cx="447.5" cy="118.3" r="30.0" fill="#afafaf" stroke="#111" stroke-width="2.4"/>
<text x="447.8" y="115.8" font-size="20" text-anchor="middle" font-weight="bold" fill="#111" textLength="41.5" lengthAdjust="spacingAndGlyphs">VM4</text>
<path d="M422.7,124.6 L431.7,124.6 M427.2,120.1 L427.2,129.1" stroke="#111" stroke-width="2.4" fill="none"/>
<path d="M462.5,124.0 L471.1,124.0" stroke="#111" stroke-width="2.4" fill="none"/>
<rect x="11.2" y="406.1" width="77.1" height="90.1" rx="2" fill="#a9a9a9" stroke="#111" stroke-width="2.6"/>
<text x="50.0" y="445.4" font-size="24" text-anchor="middle" font-weight="bold" fill="#111" textLength="42.2" lengthAdjust="spacingAndGlyphs">LD6</text>
<text x="50.5" y="472.3" font-size="17" text-anchor="middle" font-weight="bold" fill="#111" textLength="61.8" lengthAdjust="spacingAndGlyphs">300mA</text>
<path d="M71.0,422.0 L82.4,422.0 M76.7,416.3 L76.7,427.7" stroke="#111" stroke-width="2.6" fill="none"/>
<path d="M72.0,483.7 L81.4,483.7" stroke="#111" stroke-width="2.6" fill="none"/>
<circle cx="127.9" cy="455.0" r="26.6" fill="#afafaf" stroke="#111" stroke-width="2.4"/>
<text x="127.6" y="462.8" font-size="20" text-anchor="middle" font-weight="bold" fill="#111" textLength="41.5" lengthAdjust="spacingAndGlyphs">VM6</text>
<path d="M123.2,438.4 L132.2,438.4 M127.7,433.9 L127.7,442.9" stroke="#111" stroke-width="2.5" fill="none"/>
<path d="M123.5,473.4 L132.5,473.4" stroke="#111" stroke-width="2.7" fill="none"/>
<rect x="11.2" y="514.5" width="77.1" height="89.4" rx="2" fill="#a9a9a9" stroke="#111" stroke-width="2.6"/>
<text x="50.0" y="554.0" font-size="24" text-anchor="middle" font-weight="bold" fill="#111" textLength="42.2" lengthAdjust="spacingAndGlyphs">LD7</text>
<text x="50.5" y="580.7" font-size="17" text-anchor="middle" font-weight="bold" fill="#111" textLength="61.8" lengthAdjust="spacingAndGlyphs">300mA</text>
<path d="M71.0,530.5 L82.4,530.5 M76.7,524.8 L76.7,536.2" stroke="#111" stroke-width="2.6" fill="none"/>
<path d="M72.0,592.0 L81.4,592.0" stroke="#111" stroke-width="2.6" fill="none"/>
<circle cx="127.9" cy="557.8" r="26.6" fill="#afafaf" stroke="#111" stroke-width="2.4"/>
<text x="127.6" y="566.6" font-size="20" text-anchor="middle" font-weight="bold" fill="#111" textLength="41.5" lengthAdjust="spacingAndGlyphs">VM7</text>
<path d="M123.2,541.6 L132.2,541.6 M127.7,537.1 L127.7,546.1" stroke="#111" stroke-width="2.5" fill="none"/>
<path d="M123.5,576.6 L132.5,576.6" stroke="#111" stroke-width="2.7" fill="none"/>
<rect x="12.2" y="664.0" width="88.3" height="115.2" rx="2" fill="#a9a9a9" stroke="#111" stroke-width="2.6"/>
<text x="56.0" y="711.8" font-size="21.5" text-anchor="middle" font-weight="normal" fill="#111" textLength="39" lengthAdjust="spacingAndGlyphs" stroke="#111" stroke-width="0.9">PS1</text>
<text x="56.4" y="744.6" font-size="23" text-anchor="middle" font-weight="normal" fill="#111" textLength="69.2" lengthAdjust="spacingAndGlyphs" stroke="#111" stroke-width="0.9">5V, 5A</text>
<path d="M78.0,682.7 L92.5,682.7 M85.3,675.5 L85.3,690.0" stroke="#111" stroke-width="3.6" fill="none"/>
<path d="M76.4,766.4 L91.8,766.4" stroke="#111" stroke-width="3.4" fill="none"/>
<rect x="227.0" y="989.4" width="104.1" height="69.4" rx="2" fill="#a9a9a9" stroke="#111" stroke-width="2.6"/>
<text x="279.3" y="1017.6" font-size="24" text-anchor="middle" font-weight="bold" fill="#111" textLength="41" lengthAdjust="spacingAndGlyphs">LD5</text>
<text x="279.6" y="1045.6" font-size="17.5" text-anchor="middle" font-weight="bold" fill="#111" textLength="62.2" lengthAdjust="spacingAndGlyphs">300mA</text>
<path d="M236.0,1003.0 L247.8,1003.0 M241.9,997.1 L241.9,1008.9" stroke="#111" stroke-width="2.6" fill="none"/>
<path d="M311.5,1003.0 L322.5,1003.0" stroke="#111" stroke-width="2.6" fill="none"/>
<circle cx="278.8" cy="950.0" r="30.2" fill="#afafaf" stroke="#111" stroke-width="2.4"/>
<text x="279.2" y="947.2" font-size="20" text-anchor="middle" font-weight="bold" fill="#111" textLength="42.4" lengthAdjust="spacingAndGlyphs">VM5</text>
<path d="M255.5,955.8 L264.5,955.8 M260.0,951.3 L260.0,960.3" stroke="#111" stroke-width="2.5" fill="none"/>
<path d="M293.5,955.0 L302.5,955.0" stroke="#111" stroke-width="2.7" fill="none"/>
<rect x="1017.7" y="487.0" width="66.0" height="83.7" rx="2" fill="#a9a9a9" stroke="#111" stroke-width="2.6"/>
<text x="1050.8" y="526.3" font-size="24" text-anchor="middle" font-weight="bold" fill="#111" textLength="44" lengthAdjust="spacingAndGlyphs">LD3</text>
<text x="1051.0" y="550.8" font-size="19.5" text-anchor="middle" font-weight="bold" fill="#111" textLength="40" lengthAdjust="spacingAndGlyphs">1.5A</text>
<path d="M1023.5,498.2 L1035.5,498.2 M1029.5,492.2 L1029.5,504.2" stroke="#111" stroke-width="3" fill="none"/>
<path d="M1025.2,561.9 L1036.8,561.9" stroke="#111" stroke-width="3" fill="none"/>
<circle cx="978.5" cy="532.0" r="27.3" fill="#afafaf" stroke="#111" stroke-width="2.4"/>
<text x="978.5" y="539.2" font-size="20" text-anchor="middle" font-weight="bold" fill="#111" textLength="42" lengthAdjust="spacingAndGlyphs">VM3</text>
<path d="M973.2,514.4 L982.8,514.4 M978.0,509.6 L978.0,519.1" stroke="#111" stroke-width="2.5" fill="none"/>
<path d="M974.4,551.4 L983.9,551.4" stroke="#111" stroke-width="2.9" fill="none"/>
<rect x="1017.7" y="612.1" width="66.0" height="83.9" rx="2" fill="#a9a9a9" stroke="#111" stroke-width="2.6"/>
<text x="1050.8" y="651.4" font-size="24" text-anchor="middle" font-weight="bold" fill="#111" textLength="44" lengthAdjust="spacingAndGlyphs">LD2</text>
<text x="1051.0" y="675.9" font-size="19.5" text-anchor="middle" font-weight="bold" fill="#111" textLength="40" lengthAdjust="spacingAndGlyphs">2.5A</text>
<path d="M1023.5,623.3 L1035.5,623.3 M1029.5,617.3 L1029.5,629.3" stroke="#111" stroke-width="3" fill="none"/>
<path d="M1025.2,687.0 L1036.8,687.0" stroke="#111" stroke-width="3" fill="none"/>
<circle cx="975.0" cy="653.4" r="27.3" fill="#afafaf" stroke="#111" stroke-width="2.4"/>
<text x="975.0" y="660.6" font-size="20" text-anchor="middle" font-weight="bold" fill="#111" textLength="42" lengthAdjust="spacingAndGlyphs">VM2</text>
<path d="M969.8,635.8 L979.2,635.8 M974.5,631.0 L974.5,640.5" stroke="#111" stroke-width="2.5" fill="none"/>
<path d="M970.9,672.8 L980.4,672.8" stroke="#111" stroke-width="2.9" fill="none"/>
<rect x="1017.7" y="729.4" width="66.0" height="83.5" rx="2" fill="#a9a9a9" stroke="#111" stroke-width="2.6"/>
<text x="1050.8" y="768.7" font-size="24" text-anchor="middle" font-weight="bold" fill="#111" textLength="44" lengthAdjust="spacingAndGlyphs">LD1</text>
<text x="1051.0" y="793.2" font-size="19.5" text-anchor="middle" font-weight="bold" fill="#111" textLength="40" lengthAdjust="spacingAndGlyphs">2.5A</text>
<path d="M1023.5,740.6 L1035.5,740.6 M1029.5,734.6 L1029.5,746.6" stroke="#111" stroke-width="3" fill="none"/>
<path d="M1025.2,804.3 L1036.8,804.3" stroke="#111" stroke-width="3" fill="none"/>
<circle cx="974.0" cy="773.2" r="27.3" fill="#afafaf" stroke="#111" stroke-width="2.4"/>
<text x="974.0" y="780.4" font-size="20" text-anchor="middle" font-weight="bold" fill="#111" textLength="42" lengthAdjust="spacingAndGlyphs">VM1</text>
<path d="M968.8,755.6 L978.2,755.6 M973.5,750.9 L973.5,760.4" stroke="#111" stroke-width="2.5" fill="none"/>
<path d="M969.9,792.6 L979.4,792.6" stroke="#111" stroke-width="2.9" fill="none"/>
<rect x="867.7" y="43.8" width="222.0" height="83.1" rx="2" fill="#a9a9a9" stroke="#111" stroke-width="2.6"/>
<text x="978.7" y="77.8" font-size="19" text-anchor="middle" font-weight="bold" fill="#111">Power Up Sequence</text>
<text x="978.7" y="103.8" font-size="19" text-anchor="middle" font-weight="bold" fill="#111">Programming Section</text>
<path d="M988,129 L916,271" fill="none" stroke="#111" stroke-width="4.4" stroke-linecap="round" stroke-linejoin="round"/>
<path d="M909.5,260 L915.5,273.5 L928.5,269.5" fill="none" stroke="#111" stroke-width="5.2" stroke-linejoin="miter" stroke-linecap="butt"/>
</svg></body></html>
